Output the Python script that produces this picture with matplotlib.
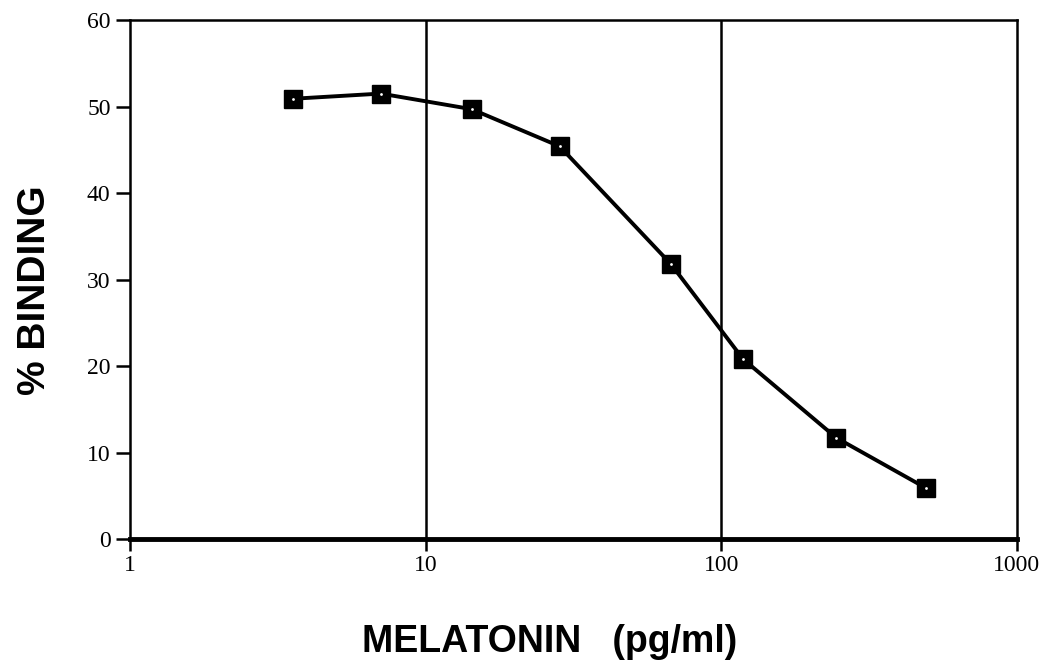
import matplotlib
matplotlib.use("Agg")
import matplotlib.pyplot as plt

# melatonin standard curve
conc_pg_ml = [3.55, 7.05, 14.3, 28.4, 67.5, 118.5, 245, 492]
pct_binding = [50.9, 51.5, 49.7, 45.4, 31.8, 20.8, 11.7, 5.9]

x_ticks = [1, 10, 100, 1000]
x_tick_labels = ["1", "10", "100", "1000"]
y_ticks = [0, 10, 20, 30, 40, 50, 60]

fig = plt.figure(figsize=(10.58, 6.69), dpi=100)
ax = fig.add_axes([0.1229, 0.1943, 0.8383, 0.7757])

ax.set_xscale("log")
ax.set_xlim(1, 1000)
ax.set_ylim(0, 60)

# decade guide lines
for xv in x_ticks[1:-1]:
    ax.axvline(xv, color="black", lw=1.8, zorder=1)

ax.plot(conc_pg_ml, pct_binding, color="black", lw=2.8, marker="s",
        markersize=13, markerfacecolor="black", markeredgecolor="black", zorder=3)
ax.plot(conc_pg_ml, pct_binding, ls="none", marker="o", markersize=2,
        markerfacecolor="white", markeredgewidth=0, zorder=4)

ax.set_xticks(x_ticks)
ax.set_xticklabels(x_tick_labels)
ax.xaxis.set_minor_locator(matplotlib.ticker.NullLocator())
ax.set_yticks(y_ticks)

for sp in ax.spines.values():
    sp.set_linewidth(1.8)
ax.spines["bottom"].set_linewidth(3.5)

ax.tick_params(axis="y", direction="out", length=10, width=1.8,
               labelsize=17, pad=4)
ax.tick_params(axis="x", direction="out", length=8.5, width=1.8,
               labelsize=17, pad=3)
for lbl in ax.get_xticklabels() + ax.get_yticklabels():
    lbl.set_fontfamily("Liberation Serif")

ax.set_xlabel("MELATONIN   (pg/ml)", fontsize=27, fontweight="bold",
              fontfamily="Liberation Sans")
ax.set_ylabel("% BINDING", fontsize=28, fontweight="bold",
              fontfamily="Liberation Sans")
ax.xaxis.set_label_coords(0.4735, -0.163)
ax.yaxis.set_label_coords(-0.087, 0.48)

fig.savefig("out.png", dpi=100)
